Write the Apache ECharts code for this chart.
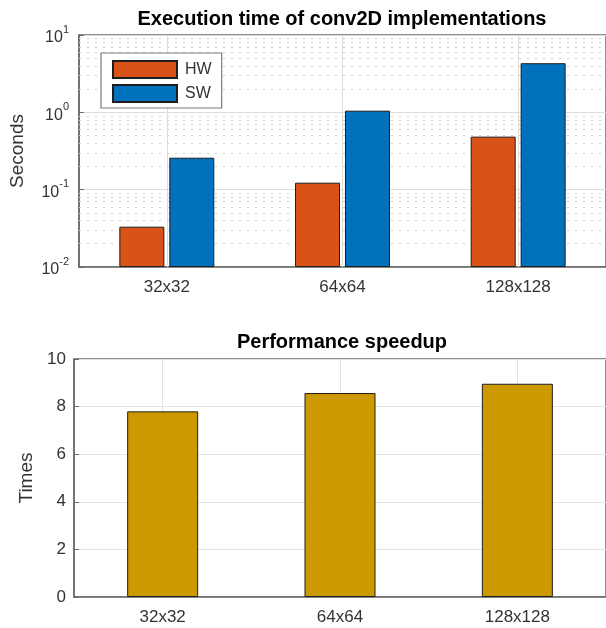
<!DOCTYPE html>
<html>
<head>
<meta charset="utf-8">
<script src="https://cdn.jsdelivr.net/npm/echarts@6/dist/echarts.min.js"></script>
<style>
  html, body { margin: 0; padding: 0; background: #fff; }
  #chart { width: 606px; height: 628px; }
</style>
</head>
<body>
<div id="chart"></div>
<script>
// data
var categories = ['32x32', '64x64', '128x128']
var hwTime = [0.0332, 0.123, 0.485]
var swTime = [0.259, 1.05, 4.32]
var speedup = [7.8, 8.57, 8.96]
var seriesNames = ['HW', 'SW']

var font = 'Liberation Sans, Arial, sans-serif'
var axisColor = '#6a6a6a'
var textColor = '#333'

// dotted minor grid lines at 2..9 x 10^k (log axis)
var minorLines = []
for (var e = -2; e < 1; e++) {
  for (var m = 2; m <= 9; m++) {
    minorLines.push({ yAxis: m * Math.pow(10, e) })
  }
}
var catLines = categories.map(function (c) { return { xAxis: c } })

var chart = echarts.init(document.getElementById('chart'))
chart.setOption({
  animation: false,
  textStyle: { fontFamily: font },
  title: [
    { text: 'Execution time of conv2D implementations', left: 342, top: 9, textAlign: 'center', padding: 0,
      textStyle: { fontSize: 20, fontWeight: 'bold', color: '#000', fontFamily: font } },
    { text: 'Performance speedup', left: 342, top: 332, textAlign: 'center', padding: 0,
      textStyle: { fontSize: 20, fontWeight: 'bold', color: '#000', fontFamily: font } }
  ],
  legend: {
    data: seriesNames,
    orient: 'vertical',
    left: 101, top: 53,
    padding: [7, 10, 5, 11],
    itemWidth: 64, itemHeight: 17, itemGap: 5,
    icon: 'rect',
    backgroundColor: '#fff',
    borderColor: '#7a7a7a', borderWidth: 1.2,
    textStyle: { fontSize: 16, color: textColor, fontFamily: font, padding: [0, 0, 0, 3] }
  },
  grid: [
    { left: 75, top: 35, width: 534, height: 232, show: true, borderColor: axisColor, borderWidth: 1.5, backgroundColor: '#fff' },
    { left: 74, top: 359, width: 535, height: 238, show: true, borderColor: axisColor, borderWidth: 1.5, backgroundColor: '#fff' }
  ],
  xAxis: [
    { type: 'category', gridIndex: 0, data: categories,
      axisLine: { lineStyle: { color: axisColor, width: 1.5 } },
      axisTick: { show: true, inside: true, alignWithLabel: true, length: 5, lineStyle: { color: axisColor } },
      axisLabel: { fontSize: 17, color: textColor, margin: 12, fontFamily: font },
      splitLine: { show: false } },
    { type: 'category', gridIndex: 1, data: categories,
      axisLine: { lineStyle: { color: axisColor, width: 1.5 } },
      axisTick: { show: true, inside: true, alignWithLabel: true, length: 5, lineStyle: { color: axisColor } },
      axisLabel: { fontSize: 17, color: textColor, margin: 12, fontFamily: font },
      splitLine: { show: false } }
  ],
  yAxis: [
    { type: 'log', gridIndex: 0, logBase: 10, min: 0.01, max: 10, startValue: 0.01,
      name: 'Seconds', nameLocation: 'middle', nameGap: 52,
      nameTextStyle: { fontSize: 19, color: textColor, fontFamily: font },
      axisLine: { show: true, lineStyle: { color: axisColor, width: 1.5 } },
      axisTick: { show: true, inside: true, length: 5, lineStyle: { color: axisColor } },
      splitLine: { show: true, lineStyle: { color: '#dcdcdc', width: 1 } },
      axisLabel: {
        margin: 10, color: textColor,
        formatter: function (v) {
          var p = Math.round(Math.log10(v))
          return '{b|10}{s|' + p + '}'
        },
        rich: {
          b: { fontSize: 16, color: textColor, fontFamily: font, verticalAlign: 'bottom', lineHeight: 22 },
          s: { fontSize: 11, color: textColor, fontFamily: font, verticalAlign: 'top', lineHeight: 22 }
        }
      } },
    { type: 'value', gridIndex: 1, min: 0, max: 10, interval: 2,
      name: 'Times', nameLocation: 'middle', nameGap: 37,
      nameTextStyle: { fontSize: 19, color: textColor, fontFamily: font },
      axisLine: { show: true, lineStyle: { color: axisColor, width: 1.5 } },
      axisTick: { show: true, inside: true, length: 5, lineStyle: { color: axisColor } },
      splitLine: { show: true, lineStyle: { color: '#e3e3e3', width: 1 } },
      axisLabel: { fontSize: 17, color: textColor, margin: 8, fontFamily: font } }
  ],
  series: [
    { name: 'grid-top', type: 'line', xAxisIndex: 0, yAxisIndex: 0, data: [], silent: true,
      markLine: { silent: true, symbol: 'none', z: 1, label: { show: false },
        lineStyle: { color: '#cfcfcf', type: [2, 6], width: 1 },
        data: minorLines } },
    { name: 'grid-top-x', type: 'line', xAxisIndex: 0, yAxisIndex: 0, data: [], silent: true,
      markLine: { silent: true, symbol: 'none', z: 1, label: { show: false },
        lineStyle: { color: '#dcdcdc', type: 'solid', width: 1 },
        data: catLines } },
    { name: 'grid-bottom-x', type: 'line', xAxisIndex: 1, yAxisIndex: 1, data: [], silent: true,
      markLine: { silent: true, symbol: 'none', z: 1, label: { show: false },
        lineStyle: { color: '#e3e3e3', type: 'solid', width: 1 },
        data: catLines } },
    { name: 'HW', type: 'bar', xAxisIndex: 0, yAxisIndex: 0, data: hwTime, barWidth: 45, barGap: '11%', z: 3,
      itemStyle: { color: '#D95319', borderColor: '#1e1e1e', borderWidth: 1 } },
    { name: 'SW', type: 'bar', xAxisIndex: 0, yAxisIndex: 0, data: swTime, barWidth: 45, barGap: '11%', z: 3,
      itemStyle: { color: '#0072BD', borderColor: '#1e1e1e', borderWidth: 1 } },
    { name: 'Speedup', type: 'bar', xAxisIndex: 1, yAxisIndex: 1, data: speedup, barWidth: 71, z: 3,
      itemStyle: { color: '#CC9900', borderColor: '#1e1e1e', borderWidth: 1 } }
  ]
})
</script>
</body>
</html>
